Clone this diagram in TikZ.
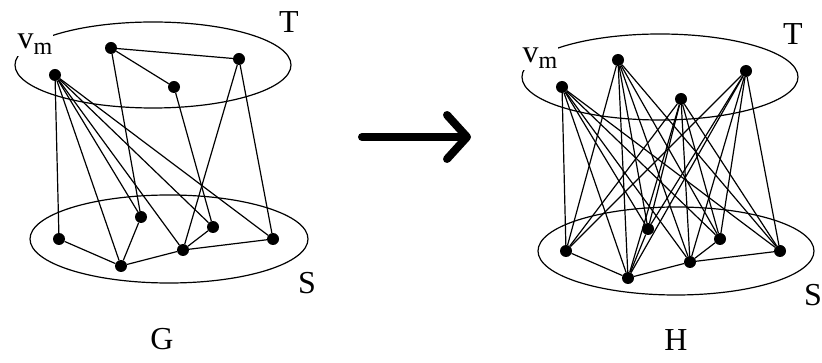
\documentclass[tikz,border=0pt]{standalone}
\usepackage{fontspec}
\setmainfont{Liberation Serif}
\usetikzlibrary{arrows.meta}
\begin{document}
\begin{tikzpicture}[
    x=1pt, y=-1pt,
    every node/.style={font=\fontsize{32}{38}\selectfont, inner sep=0pt},
    dot/.style={circle, fill=black, minimum size=12pt},
    set/.style={line width=1.2pt},
    ln/.style={line width=1.2pt},
    lbl/.style={fill=white, inner sep=1pt},
    arr/.style={line width=8pt, line cap=round,
                -{Straight Barb[length=20pt, width=44pt, line join=round, line cap=round]}},
]
    \useasboundingbox (0,0) rectangle (822,363);
    % graph G
    \draw[set] (153,65) ellipse [x radius=138pt, y radius=43pt];
    \draw[set] (169,239) ellipse [x radius=139pt, y radius=44pt];
    \node[dot] (gvm) at (55,75) {};
    \node[dot] (gt2) at (111,48) {};
    \node[dot] (gt3) at (174,87) {};
    \node[dot] (gt4) at (239,59) {};
    \node[dot] (gs1) at (59,239) {};
    \node[dot] (gs2) at (121,266) {};
    \node[dot] (gs3) at (141,217) {};
    \node[dot] (gs4) at (183,250) {};
    \node[dot] (gs5) at (213,227) {};
    \node[dot] (gs6) at (273,239) {};
    \draw[ln] (gt2) -- (gt4);
    \draw[ln] (gt2) -- (gt3);
    \draw[ln] (gt2) -- (gs3);
    \draw[ln] (gt3) -- (gs5);
    \draw[ln] (gt4) -- (gs4);
    \draw[ln] (gt4) -- (gs6);
    \foreach \s in {1,...,6}
        \draw[ln] (gvm) -- (gs\s);
    \draw[ln] (gs1) -- (gs2) -- (gs4) -- (gs6);
    \draw[ln] (gs2) -- (gs3);
    \draw[ln] (gs4) -- (gs5);
    \node[lbl] (gvml) at (35,44) {v\raisebox{-0.45ex}{\fontsize{24}{24}\selectfont m}};
    \node (gtl) at (289,22) {T};
    \node (gsl) at (307,283) {S};
    \node (gname) at (162,339) {G};
    % arrow
    \coordinate (arrs) at (362,137);
    \coordinate (arre) at (471,137);
    \draw[arr] (arrs) -- (arre);
    % graph H
    \begin{scope}[shift={(507,12)}]
        \draw[set] (153,65) ellipse [x radius=138pt, y radius=43pt];
        \draw[set] (169,239) ellipse [x radius=138pt, y radius=44pt];
        \node[dot] (ht1) at (55,75) {};
        \node[dot] (ht2) at (111,48) {};
        \node[dot] (ht3) at (174,87) {};
        \node[dot] (ht4) at (239,59) {};
        \node[dot] (hs1) at (59,239) {};
        \node[dot] (hs2) at (121,266) {};
        \node[dot] (hs3) at (141,217) {};
        \node[dot] (hs4) at (183,250) {};
        \node[dot] (hs5) at (213,227) {};
        \node[dot] (hs6) at (273,239) {};
        \foreach \t in {1,...,4}
            \foreach \s in {1,...,6}
                \draw[ln] (ht\t) -- (hs\s);
        \draw[ln] (hs1) -- (hs2) -- (hs4) -- (hs6);
        \draw[ln] (hs2) -- (hs3);
        \draw[ln] (hs4) -- (hs5);
        \node[lbl] (hvml) at (33,46) {v\raisebox{-0.45ex}{\fontsize{24}{24}\selectfont m}};
        \node (htl) at (286,22) {T};
        \node (hsl) at (306,283) {S};
    \end{scope}
    \node (hname) at (676,340) {H};
\end{tikzpicture}
\end{document}
